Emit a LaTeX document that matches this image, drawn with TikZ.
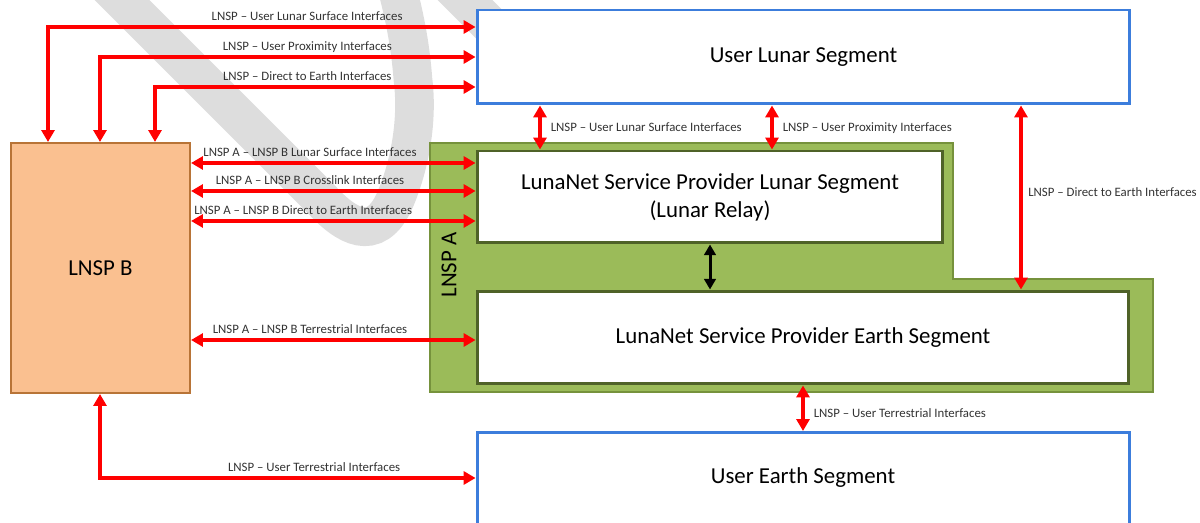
\documentclass[tikz,border=0pt]{standalone}
\usepackage{fontspec}
\setmainfont{Carlito}
\usetikzlibrary{arrows.meta,calc}
\definecolor{userblue}{HTML}{3C7DDC}
\definecolor{ifred}{HTML}{FF0000}
\definecolor{lnspgreen}{HTML}{9BBB59}
\definecolor{lnspedge}{HTML}{76923C}
\definecolor{lnspdark}{HTML}{4F6228}
\definecolor{lnspbfill}{HTML}{FAC090}
\definecolor{lnspbedge}{HTML}{B87437}
\definecolor{wmark}{HTML}{DDDDDD}
\newcommand{\segfont}{\fontsize{13}{16}\selectfont}
\newcommand{\iffont}{\fontsize{7.3}{8}\selectfont}
\tikzset{
	userbox/.style={draw=userblue, line width=1.7pt, fill=white, inner sep=0pt, font=\segfont},
	lnspbox/.style={draw=lnspdark, line width=1.7pt, fill=white, inner sep=0pt, font=\segfont, align=center},
	ifarrow/.style={draw=ifred, line width=2.3pt, {Triangle[length=6.8pt,width=7.4pt]}-{Triangle[length=6.8pt,width=7.4pt]}},
	iflabel/.style={font=\iffont, text=black!80, inner sep=1pt, text depth=0pt},
	wmarkline/.style={draw=wmark, line width=22pt}
}
\begin{document}
\begin{tikzpicture}[x=0.02cm, y=-0.02cm]
	\useasboundingbox (0,0) rectangle (1200,523);
	\clip (0,0) rectangle (1200,523);
	% faded mark behind the boxes
	\draw[wmarkline] (102,-20) -- (322,200) .. controls (345,225) and (375,245) .. (395,200) .. controls (410,165) and (418,120) .. (413,80) .. controls (410,40) and (403,10) .. (395,-20);
	\draw[wmarkline] (445,-20) -- (520,55);
	% LNSP A area
	\draw[fill=lnspgreen, draw=lnspedge, line width=1.4pt] (430,143) -- (953,143) -- (953,279) -- (1153,279) -- (1153,392) -- (430,392) -- cycle;
	\node[rotate=90, font=\segfont] (lnspa) at (449,265) {LNSP A};
	% boxes
	\node[userbox, minimum width=13.06cm, minimum height=1.88cm] (ulunar) at (803.5,57) {User Lunar Segment};
	\node[userbox, minimum width=13.06cm, minimum height=2.6cm, anchor=north] (uearth) at (803.5,431) {};
	\node[font=\segfont] (uearthtxt) at (803,478) {User Earth Segment};
	\node[lnspbox, minimum width=9.32cm, minimum height=1.84cm] (lunarseg) at (710,197) {LunaNet Service Provider Lunar Segment\\(Lunar Relay)};
	\node[lnspbox, minimum width=13.04cm, minimum height=1.86cm] (earthseg) at (803,337.5) {LunaNet Service Provider Earth Segment};
	\node[draw=lnspbedge, fill=lnspbfill, line width=1.2pt, minimum width=3.58cm, minimum height=5cm, font=\segfont] (lnspb) at (100.5,268) {LNSP B};
	% LNSP to user, around the top
	\coordinate (k1) at (48,27);
	\coordinate (k2) at (100,57);
	\coordinate (k3) at (155,87);
	\draw[ifarrow] (k1 |- lnspb.north) -- (k1) -- node[iflabel, above=1.5pt, pos=0.606] {LNSP -- User Lunar Surface Interfaces} (k1 -| ulunar.west);
	\draw[ifarrow] (k2 |- lnspb.north) -- (k2) -- node[iflabel, above=1.5pt, pos=0.552] {LNSP -- User Proximity Interfaces} (k2 -| ulunar.west);
	\draw[ifarrow] (k3 |- lnspb.north) -- (k3) -- node[iflabel, above=1.5pt, pos=0.475] {LNSP -- Direct to Earth Interfaces} (k3 -| ulunar.west);
	% LNSP A -- LNSP B
	\coordinate (h1) at (300,163);
	\coordinate (h2) at (300,191);
	\coordinate (h3) at (300,221);
	\coordinate (h4) at (300,340);
	\draw[ifarrow] (h1 -| lnspb.east) -- node[iflabel, above=1.5pt, pos=0.418] {LNSP A -- LNSP B Lunar Surface Interfaces} (h1 -| lunarseg.west);
	\draw[ifarrow] (h2 -| lnspb.east) -- node[iflabel, above=1.5pt, pos=0.418] {LNSP A -- LNSP B Crosslink Interfaces} (h2 -| lunarseg.west);
	\draw[ifarrow] (h3 -| lnspb.east) -- node[iflabel, above=1.5pt, pos=0.394] {LNSP A -- LNSP B Direct to Earth Interfaces} (h3 -| lunarseg.west);
	\draw[ifarrow] (h4 -| lnspb.east) -- node[iflabel, above=1.5pt, pos=0.418] {LNSP A -- LNSP B Terrestrial Interfaces} (h4 -| earthseg.west);
	% LNSP B to user earth
	\coordinate (k4) at (100,478);
	\draw[ifarrow] (k4 |- lnspb.south) -- (k4) -- node[iflabel, above=1.5pt, pos=0.57] {LNSP -- User Terrestrial Interfaces} (k4 -| uearth.west);
	% LNSP A to users
	\coordinate (v1) at (540,0);
	\coordinate (v2) at (772,0);
	\coordinate (v3) at (1021,0);
	\coordinate (v4) at (803,0);
	\draw[ifarrow] (v1 |- ulunar.south) -- node[iflabel, right=4pt] {LNSP -- User Lunar Surface Interfaces} (v1 |- lunarseg.north);
	\draw[ifarrow] (v2 |- ulunar.south) -- node[iflabel, right=4pt] {LNSP -- User Proximity Interfaces} (v2 |- lunarseg.north);
	\draw[ifarrow] (v3 |- ulunar.south) -- node[iflabel, right=2pt, pos=0.47] {LNSP -- Direct to Earth Interfaces} (v3 |- earthseg.north);
	\draw[ifarrow] (v4 |- earthseg.south) -- node[iflabel, right=4pt, pos=0.6] {LNSP -- User Terrestrial Interfaces} (v4 |- uearth.north);
	% inside LNSP A
	\draw[line width=1.7pt, {Triangle[length=6pt,width=6.5pt]}-{Triangle[length=6pt,width=6.5pt]}] (lunarseg.south -| 710,0) -- (earthseg.north -| 710,0);
\end{tikzpicture}
\end{document}
